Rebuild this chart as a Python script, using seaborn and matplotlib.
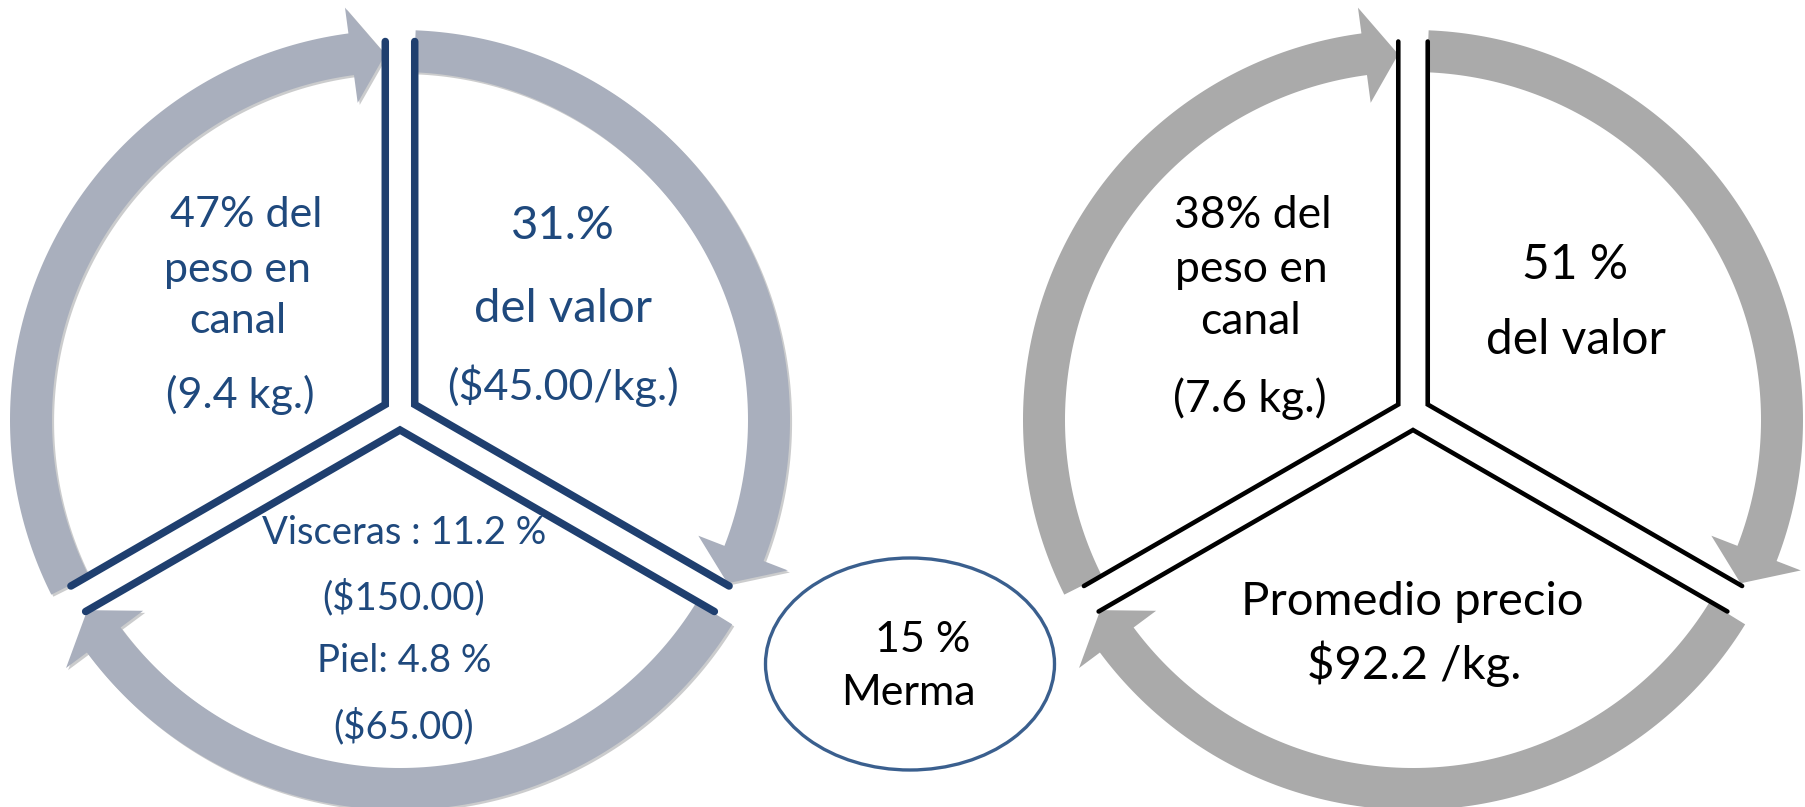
import numpy as np
import matplotlib.pyplot as plt
import matplotlib.patheffects as pe
from matplotlib.patches import Polygon, Ellipse
import seaborn as sns

# texts of every panel, line by line
izq_peso = ["47% del", "peso en", "canal", "(9.4 kg.)"]
izq_valor = ["31.%", "del valor", "($45.00/kg.)"]
izq_resto = ["Visceras : 11.2 %", "($150.00)", "Piel: 4.8 %", "($65.00)"]
der_peso = ["38% del", "peso en", "canal", "(7.6 kg.)"]
der_valor = ["51 %", "del valor"]
der_precio = ["Promedio precio", "$92.2 /kg."]
merma = ["15 %", "Merma"]

# arrow segments of the cycle: start angle and tip angle (degrees, clockwise)
arrow_start = [206.6, 87.7, -31.6]
arrow_tip = [92.3, -26.5, -148.7]

# split circle: spoke directions of the three sectors
sector_edges = [(90, 210), (90, -30), (210, 330)]

# layout in pixels
W, H = 1806, 807
R_IN, R_OUT = 348, 390
R_HEAD_IN, R_HEAD_OUT = 320, 416
HEAD_DEG = 5.3
SPOKE = 363
EXPLODE = 17

ARROW_L = "#A9AFBD"
ARROW_R = "#AAAAAA"
LINE_L = "#1F3F6F"
TEXT_L = "#1F497D"
ELLIPSE_C = "#3A5F8E"

sns.set_theme(style="white")
plt.rcParams["font.family"] = ["Lato", "DejaVu Sans"]

fig = plt.figure(figsize=(W / 100, H / 100), dpi=100)
ax = fig.add_axes([0, 0, 1, 1])
ax.set_xlim(0, W)
ax.set_ylim(H, 0)
ax.axis("off")


def pt(cx, cy, r, deg):
    a = np.radians(deg)
    return cx + r * np.cos(a), cy - r * np.sin(a)


def draw_arrow(cx, cy, start, tip, color, shadow):
    base = tip + HEAD_DEG
    t = np.linspace(start, base, 120)
    outer = [pt(cx, cy, R_OUT, a) for a in t]
    inner = [pt(cx, cy, R_IN, a) for a in t[::-1]]
    head = [pt(cx, cy, R_HEAD_OUT, base),
            pt(cx, cy, (R_IN + R_OUT) / 2 - 3, tip),
            pt(cx, cy, R_HEAD_IN, base)]
    poly = Polygon(outer + head + inner, closed=True, facecolor=color,
                   edgecolor="none", zorder=2)
    if shadow:
        poly.set_path_effects([pe.SimplePatchShadow(offset=(1.5, -1.5), alpha=0.25),
                               pe.Normal()])
    ax.add_patch(poly)


def draw_cycle(cx, cy, color, line_color, lw, shadow):
    for s, e in zip(arrow_start, arrow_tip):
        draw_arrow(cx, cy, s, e, color, shadow)
    for a1, a2 in sector_edges:
        mid = (a1 + a2) / 2
        ox, oy = pt(cx, cy - 7, EXPLODE, mid)
        x1, y1 = pt(ox, oy, SPOKE, a1)
        x2, y2 = pt(ox, oy, SPOKE, a2)
        ax.plot([x1, ox, x2], [y1, oy, y2], color=line_color, lw=lw,
                solid_joinstyle="miter", solid_capstyle="round", zorder=3)


def draw_lines(lines, xs, ys, size, color):
    for txt, x, y in zip(lines, xs, ys):
        ax.text(x, y, txt, ha="center", va="center", fontsize=size,
                color=color, zorder=4)


draw_cycle(400, 420, ARROW_L, LINE_L, 5.4, True)
draw_cycle(1413, 420, ARROW_R, "black", 3.3, False)

draw_lines(izq_peso, [246, 238, 238, 240], [215, 270, 321, 395], 31, TEXT_L)
draw_lines(izq_valor[:2], [563, 563], [226, 309], 34, TEXT_L)
draw_lines(izq_valor[2:], [563], [386], 31, TEXT_L)
draw_lines(izq_resto, [404] * 4, [533, 597, 661, 726], 27.5, TEXT_L)
draw_lines(der_peso, [1253, 1251, 1251, 1250], [216, 270, 322, 399], 32, "black")
draw_lines(der_valor, [1575, 1576], [265, 340], 34.5, "black")
draw_lines(der_precio, [1412, 1414], [602, 664], 34, "black")

ax.add_patch(Ellipse((910, 664), 289, 212, facecolor="white",
                     edgecolor=ELLIPSE_C, lw=2.4, zorder=3))
draw_lines(merma, [923, 908], [640, 693], 31, "black")

fig.savefig("out.png", dpi=100)
